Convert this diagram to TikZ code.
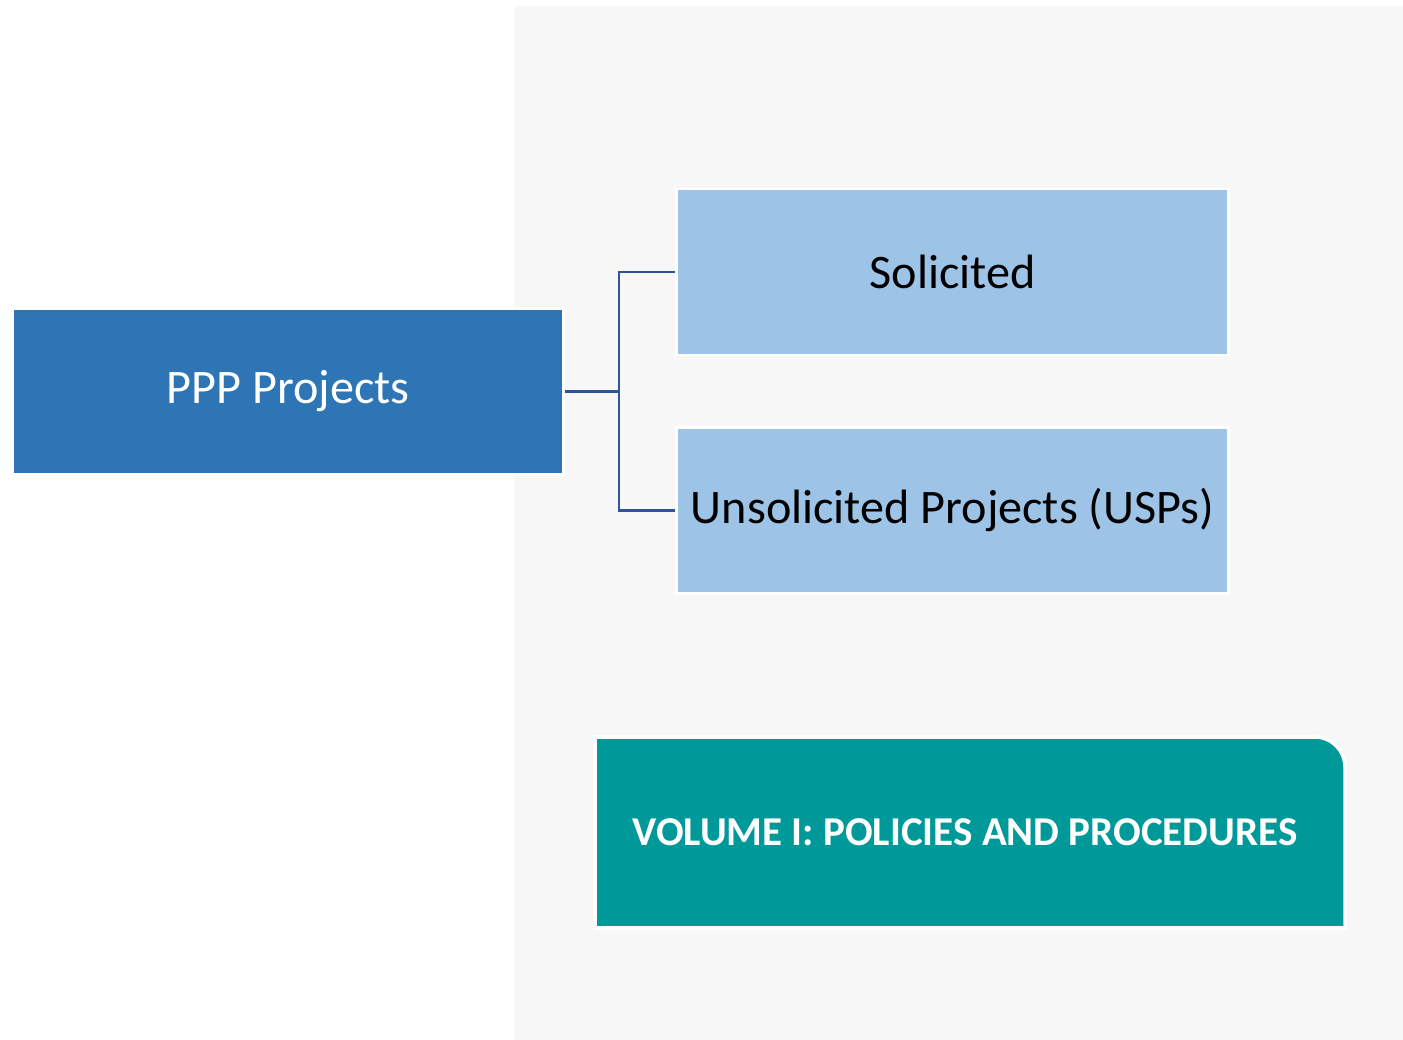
\documentclass[tikz,border=0pt]{standalone}
\usepackage{fontspec}
\setmainfont{Carlito}
\usetikzlibrary{positioning}
\definecolor{pppblue}{HTML}{2E75B6}
\definecolor{lightblue}{HTML}{9DC3E6}
\definecolor{linkblue}{HTML}{2F5597}
\definecolor{volteal}{HTML}{009999}
\definecolor{panelgrey}{HTML}{F7F7F7}
\tikzset{
  box/.style={shape=rectangle,draw=white,line width=0.8pt,inner sep=0pt,
    minimum width=5.51cm,minimum height=1.66cm,font=\fontsize{13.7}{16}\selectfont},
  link/.style={draw=linkblue,line width=0.6pt}
}

\begin{document}
\begin{tikzpicture}[x=0.01cm,y=-0.01cm]
    \useasboundingbox (0,0) rectangle (1403,1040);
    \fill[white] (0,0) rectangle (1403,1040);
    \fill[panelgrey] (515,6) rectangle (1403,1040);
    \node (ppp) [box,fill=pppblue,text=white] at (288,391.5) {PPP Projects};
    \node (sol) [box,fill=lightblue] at (952.5,272) {Solicited};
    \node (usp) [box,fill=lightblue] at (952.5,510.5) {Unsolicited Projects (USPs)};
    \draw[link] (ppp.east) -- ++(54,0) coordinate (split) |- (sol.west);
    \draw[link] (split) |- (usp.west);
    % volume banner, only one corner rounded
    \draw[draw=white,line width=1pt,fill=volteal] (595,928) -- (595,737)
      [rounded corners=0.3cm] -- (1345,737) [sharp corners] -- (1345,928) -- cycle;
    \node (vol) [text=white,font=\fontsize{11.65}{14}\selectfont\bfseries]
      at (965,832.5) {VOLUME I: POLICIES AND PROCEDURES};
\end{tikzpicture}
\end{document}
